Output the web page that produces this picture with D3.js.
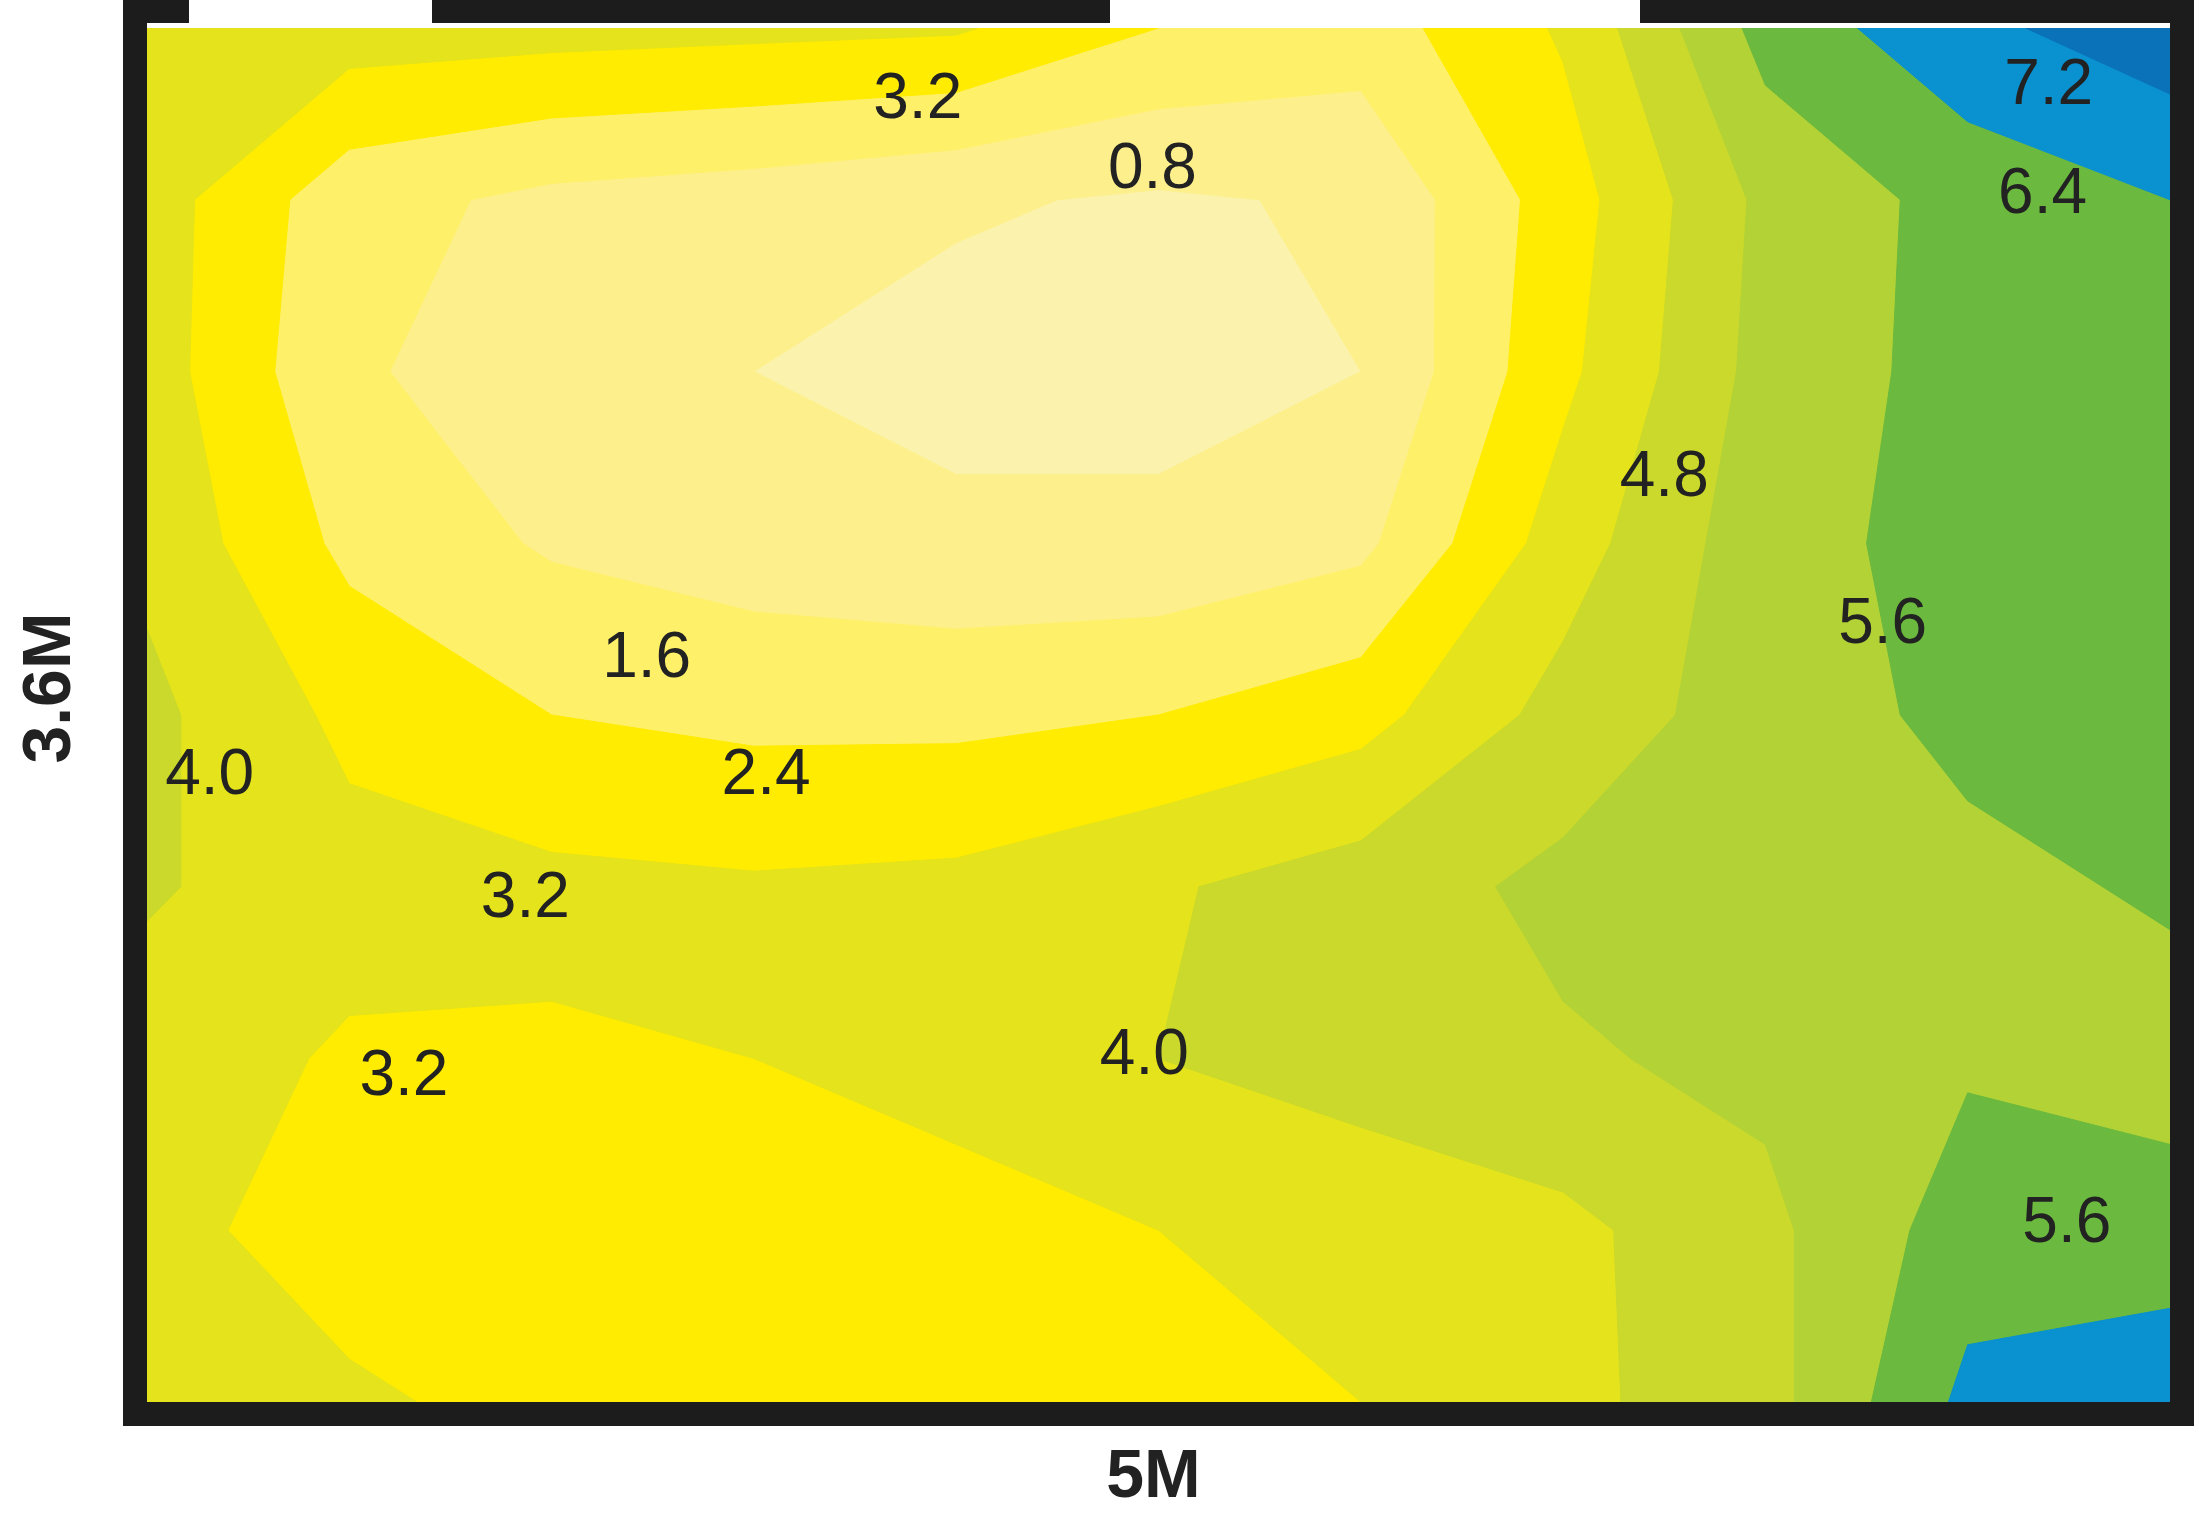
<!DOCTYPE html>
<html>
<head>
<meta charset="utf-8">
<script src="https://cdn.jsdelivr.net/npm/d3@7"></script>
<style>
  body { margin: 0; background: #fff; }
  text { font-family: "Liberation Sans", Arial, sans-serif; }
</style>
</head>
<body>
<div id="chart"></div>
<script>
// grid of estimated values, rows top -> bottom, columns left -> right
const gridCols = 11;
const gridRows = 9;
const gridValues = [
  3.7, 3.6, 3.5, 3.4, 3.3, 2.4, 2.0, 3.3, 5.9, 7.0, 7.7,
  3.6, 1.9, 1.4, 1.2, 0.9, 0.7, 0.9, 2.8, 5.0, 5.9, 6.4,
  3.6, 1.7, 1.2, 0.8, 0.5, 0.5, 0.8, 3.0, 5.1, 5.9, 6.0,
  3.8, 2.2, 1.5, 1.2, 1.0, 1.0, 1.4, 3.6, 5.3, 5.9, 6.0,
  4.2, 3.0, 2.4, 2.2, 2.2, 2.4, 2.9, 4.3, 5.2, 5.8, 6.1,
  4.1, 3.5, 3.4, 3.3, 3.4, 3.9, 4.4, 5.0, 5.1, 5.4, 5.7,
  3.6, 3.1, 3.1, 3.2, 3.4, 4.0, 4.4, 4.7, 5.0, 5.5, 5.3,
  3.4, 2.9, 2.8, 2.9, 3.0, 3.2, 3.4, 3.8, 4.6, 6.0, 5.9,
  3.5, 3.3, 3.0, 3.0, 2.9, 3.1, 3.2, 3.8, 4.5, 6.6, 7.0
];
const thresholds = [0, 0.8, 1.6, 2.4, 3.2, 4.0, 4.8, 5.6, 6.4, 7.2];
const levelColors = ["#fbf2ae", "#fdf08c", "#fff06a", "#ffec00", "#e5e31b",
                     "#cad92b", "#b3d236", "#6bb93e", "#0a91cf", "#0a72b8"];

// contour labels: text, x fraction, y fraction (from top)
const labelText = ["3.2", "0.8", "7.2", "6.4", "4.8", "5.6", "1.6", "4.0", "2.4", "3.2", "3.2", "4.0", "5.6"];
const labelX = [0.381, 0.497, 0.940, 0.937, 0.750, 0.858, 0.247, 0.031, 0.306, 0.187, 0.127, 0.493, 0.949];
const labelY = [0.049, 0.100, 0.039, 0.118, 0.324, 0.431, 0.456, 0.541, 0.541, 0.631, 0.760, 0.745, 0.867];

const xLabel = "5M";
const yLabel = "3.6M";

const W = 2199, H = 1539;
const plot = { left: 147, top: 28, right: 2170, bottom: 1402 };
const pw = plot.right - plot.left, ph = plot.bottom - plot.top;

const svg = d3.select("#chart").append("svg")
  .attr("width", W).attr("height", H);

const g = svg.append("g")
  .attr("transform", "translate(" + plot.left + "," + plot.top + ")");

const x = d3.scaleLinear().domain([0, 1]).range([0, pw]);
const y = d3.scaleLinear().domain([0, 1]).range([0, ph]);
const color = d3.scaleThreshold().domain(thresholds.slice(1)).range(levelColors);

const contours = d3.contours().size([gridCols, gridRows]).thresholds(thresholds)(gridValues);

// grid points sit at cell centres (i+0.5); map them onto [0,1]
const gx = d3.scaleLinear().domain([0.5, gridCols - 0.5]).range([0, pw]);
const gy = d3.scaleLinear().domain([0.5, gridRows - 0.5]).range([0, ph]);
const path = d3.geoPath(d3.geoTransform({
  point: function (px, py) { this.stream.point(gx(px), gy(py)); }
}));

g.append("clipPath").attr("id", "clip")
  .append("rect").attr("width", pw).attr("height", ph);

g.append("g").attr("clip-path", "url(#clip)")
  .selectAll("path")
  .data(contours)
  .enter().append("path")
  .attr("d", path)
  .attr("fill", d => color(d.value))
  .attr("stroke", d => color(d.value))
  .attr("stroke-width", 1);

g.selectAll("text.lbl")
  .data(labelText)
  .enter().append("text")
  .attr("class", "lbl")
  .attr("x", (d, i) => x(labelX[i]))
  .attr("y", (d, i) => y(labelY[i]))
  .attr("dy", "0.35em")
  .attr("text-anchor", "middle")
  .attr("font-size", 64)
  .attr("fill", "#222")
  .text(d => d);

// frame
const bw = 24;
svg.append("rect")
  .attr("x", plot.left - bw / 2).attr("y", plot.top - bw / 2 - 5)
  .attr("width", pw + bw).attr("height", ph + bw + 5)
  .attr("fill", "none").attr("stroke", "#1c1c1c").attr("stroke-width", bw);

// gaps in the top edge
[[189, 432], [1110, 1640]].forEach(gp => {
  svg.append("rect")
    .attr("x", gp[0]).attr("y", 0)
    .attr("width", gp[1] - gp[0]).attr("height", plot.top - 1)
    .attr("fill", "#fff");
});

svg.append("text")
  .attr("x", plot.left + pw / 2 - 5).attr("y", 1497)
  .attr("text-anchor", "middle")
  .attr("font-size", 68).attr("font-weight", "bold").attr("fill", "#222")
  .text(xLabel);

svg.append("text")
  .attr("transform", "translate(70," + 688 + ") rotate(-90)")
  .attr("text-anchor", "middle")
  .attr("font-size", 68).attr("font-weight", "bold").attr("fill", "#222")
  .text(yLabel);
</script>
</body>
</html>
